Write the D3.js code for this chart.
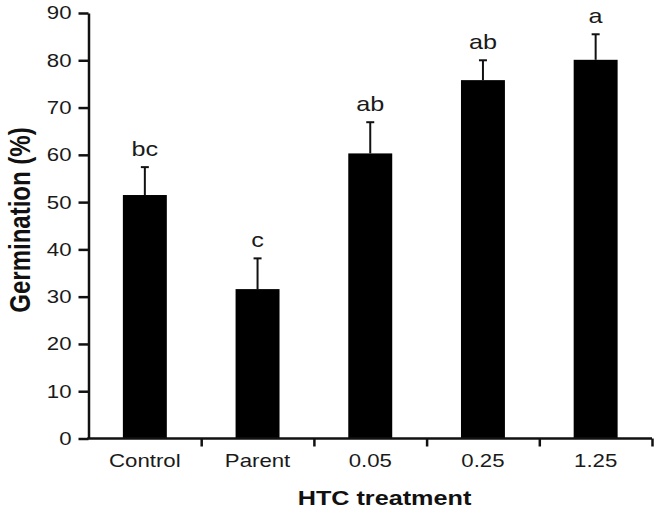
<!DOCTYPE html>
<html>
<head>
<meta charset="utf-8">
<script src="https://cdn.jsdelivr.net/npm/d3@7"></script>
<style>
  body { margin: 0; background: #fff; }
  svg { display: block; font-family: "Liberation Sans", Arial, sans-serif; }
  .axis path, .axis line { stroke: #111; stroke-width: 2.5; }
  .axis text { fill: #1a1a1a; font-size: 18.5px; }
</style>
</head>
<body>
<script>
// data
let categories = ['Control', 'Parent', '0.05', '0.25', '1.25']
let means = [51.5, 31.6, 60.3, 75.8, 80.1]
let errors = [5.9, 6.5, 6.6, 4.2, 5.4]
let letters = ['bc', 'c', 'ab', 'ab', 'a']
let yTicks = [0, 10, 20, 30, 40, 50, 60, 70, 80, 90]

let width = 655
let height = 508

// the original image is a bit wider than tall, text looks stretched
const stretch = 1.2

let svg = d3.select('body').append('svg')
    .attr('width', width)
    .attr('height', height)

const plotLeft = 88.5, plotRight = 652
const plotTop = 13, plotBottom = 438.5

const xScale = d3.scaleBand()
    .domain(categories)
    .range([plotLeft, plotRight])
    .paddingInner(0.61)
    .paddingOuter(0.305)

// for the tick marks between categories
const xEdge = d3.scaleLinear()
    .domain([0, categories.length])
    .range([plotLeft, plotRight])

const yScale = d3.scaleLinear()
    .domain([0, 90])
    .range([plotBottom, plotTop])

// bars
svg.selectAll('rect.bar')
    .data(categories)
    .enter()
    .append('rect')
    .attr('class', 'bar')
    .attr('x', d => xScale(d))
    .attr('y', (d, i) => yScale(means[i]))
    .attr('width', xScale.bandwidth())
    .attr('height', (d, i) => yScale(0) - yScale(means[i]))
    .attr('fill', '#000')

// error bars (upper only)
let eb = svg.selectAll('g.err')
    .data(categories)
    .enter()
    .append('g')
    .attr('class', 'err')

eb.append('line')
    .attr('x1', d => xScale(d) + xScale.bandwidth() / 2)
    .attr('x2', d => xScale(d) + xScale.bandwidth() / 2)
    .attr('y1', (d, i) => yScale(means[i]))
    .attr('y2', (d, i) => yScale(means[i] + errors[i]))
    .attr('stroke', '#111')
    .attr('stroke-width', 2)

eb.append('line')
    .attr('x1', d => xScale(d) + xScale.bandwidth() / 2 - 4)
    .attr('x2', d => xScale(d) + xScale.bandwidth() / 2 + 4)
    .attr('y1', (d, i) => yScale(means[i] + errors[i]))
    .attr('y2', (d, i) => yScale(means[i] + errors[i]))
    .attr('stroke', '#111')
    .attr('stroke-width', 2)

// significance letters
svg.selectAll('text.sig')
    .data(categories)
    .enter()
    .append('text')
    .attr('class', 'sig')
    .attr('x', d => xScale(d) + xScale.bandwidth() / 2)
    .attr('y', (d, i) => yScale(means[i] + errors[i]) - 11)
    .attr('text-anchor', 'middle')
    .style('font-size', '21px')
    .attr('fill', '#1a1a1a')
    .text((d, i) => letters[i])

// y axis
svg.append('g')
    .attr('class', 'axis y-axis')
    .attr('transform', 'translate(' + plotLeft + ',0)')
    .call(d3.axisLeft(yScale).tickValues(yTicks).tickSize(10).tickSizeOuter(0).tickPadding(7))

// x axis: tick marks at the category edges
svg.append('g')
    .attr('class', 'axis x-axis')
    .attr('transform', 'translate(0,' + plotBottom + ')')
    .call(d3.axisBottom(xEdge).tickValues(d3.range(1, categories.length + 1)).tickSize(8).tickSizeOuter(0).tickFormat(''))
    .select('.domain').attr('d', 'M' + (plotLeft - 1.25) + ',0H' + plotRight)

// x labels
svg.append('g')
    .attr('class', 'axis x-labels')
    .attr('transform', 'translate(0,' + plotBottom + ')')
    .call(d3.axisBottom(xScale).tickSize(0).tickPadding(15))
    .call(g => g.select('.domain').remove())

svg.append('text')
    .attr('class', 'title')
    .attr('x', 384.5)
    .attr('y', 505)
    .attr('text-anchor', 'middle')
    .style('font-size', '21px')
    .style('font-weight', 'bold')
    .attr('fill', '#111')
    .text('HTC treatment')

svg.append('text')
    .attr('class', 'ylabel')
    .attr('transform', 'translate(30,220) rotate(-90) scale(1,' + stretch + ')')
    .attr('text-anchor', 'middle')
    .style('font-size', '24px')
    .style('font-weight', 'bold')
    .attr('fill', '#111')
    .text('Germination (%)')

// widen horizontal texts to match the reference's aspect
svg.selectAll('.axis text, text.sig, text.title').each(function () {
    let w = this.getComputedTextLength()
    d3.select(this)
        .attr('textLength', w * stretch)
        .attr('lengthAdjust', 'spacingAndGlyphs')
})
</script>
</body>
</html>
